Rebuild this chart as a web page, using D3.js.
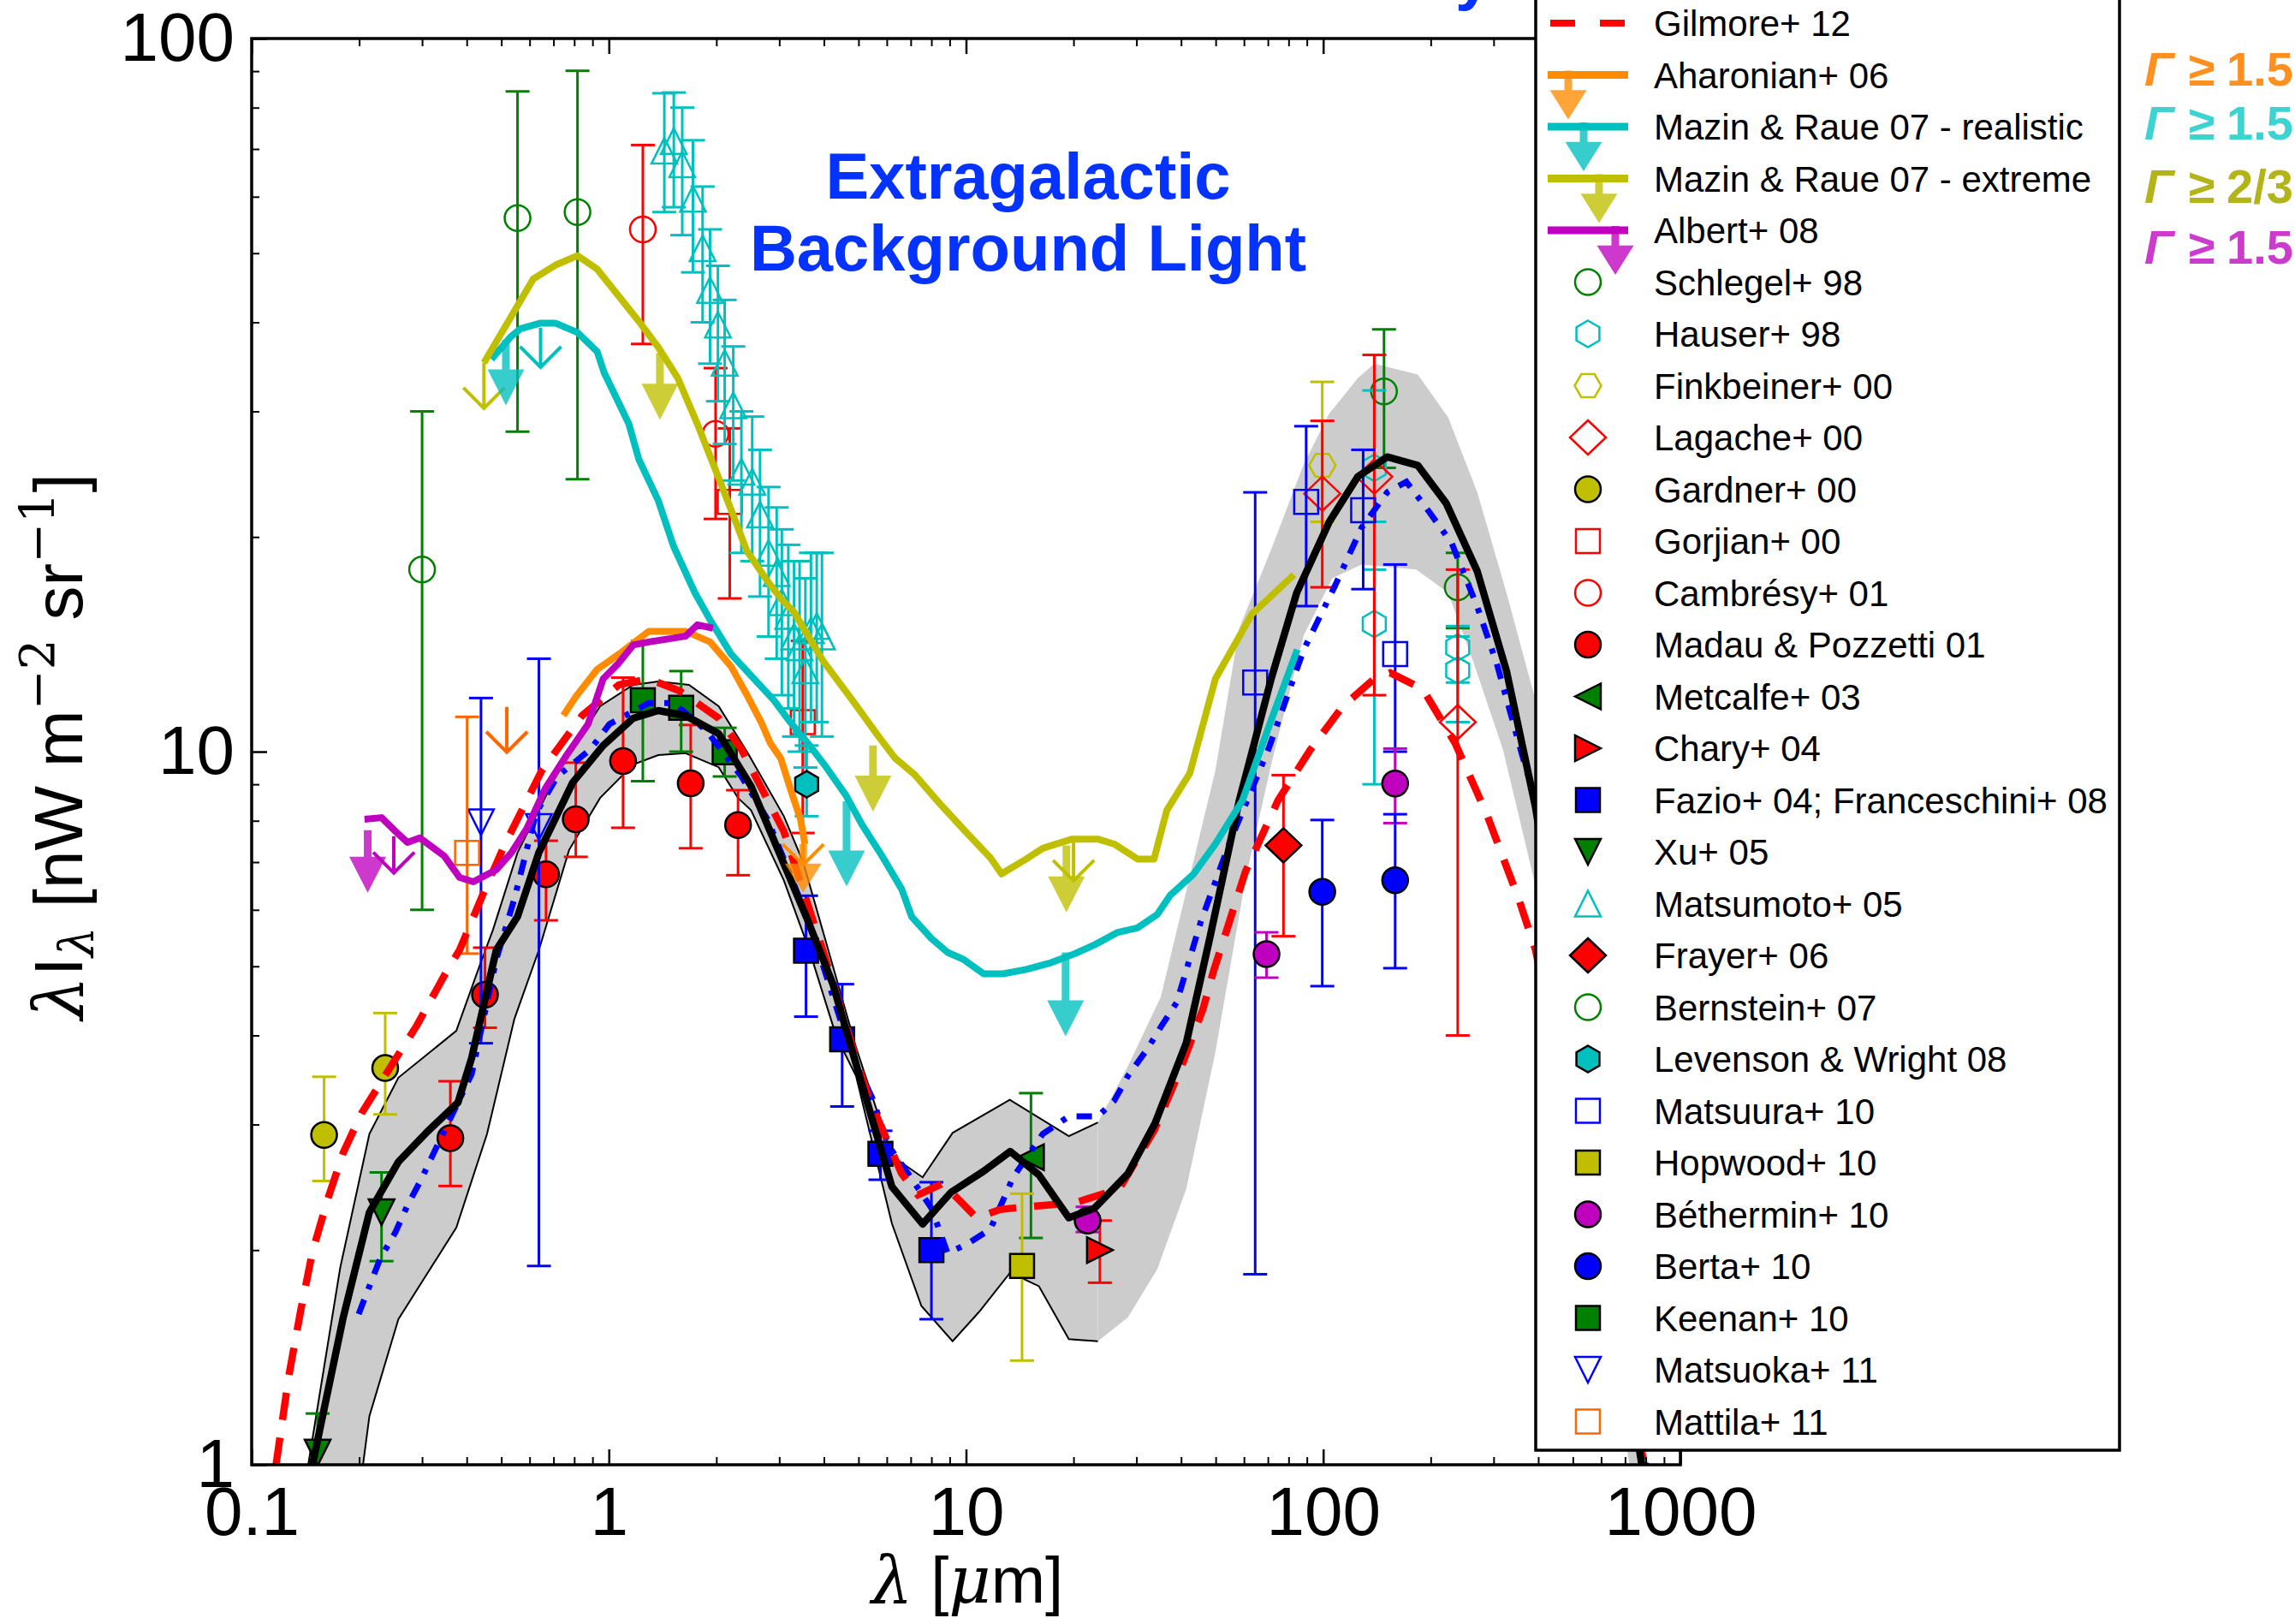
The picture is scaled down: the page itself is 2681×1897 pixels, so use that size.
<!DOCTYPE html>
<html><head><meta charset="utf-8">
<script src="https://cdn.jsdelivr.net/npm/d3@7"></script>
<style>
html,body{margin:0;padding:0;background:#fff;overflow:hidden}
svg{display:block}
text{font-family:"Liberation Sans",Arial,Helvetica,sans-serif}
</style></head><body>
<svg id="chart" width="2681" height="1897"></svg>
<script>
// ---------------- data: model curves (wavelength in micron, nW m^-2 sr^-1) ----------------
const modelLam = [0.135,0.148,0.1805,0.2136,0.2575,0.31,0.378,0.413,0.484,0.555,0.637,0.792,0.964,1.17,1.375,1.64,2.03,2.50,3.57,4.24,4.92,6.20,7.56,9.08,11.2,13.3,16.0,19.4,22.9,28.4,33.9,41.4,48.3,58.2,71.5,84.3,104,125,151,184,221,270,326,393,500,650,780,900];
const modelVal = [0.8,1.0,1.61,2.26,2.66,2.93,3.22,3.72,5.27,5.87,7.22,9.05,10.2,11.14,11.42,11.23,10.6,8.95,5.87,4.72,3.65,2.455,2.175,2.41,2.58,2.75,2.55,2.22,2.29,2.56,3.02,3.91,5.52,8.54,12.65,16.7,21.0,24.3,25.9,25.2,22.3,17.9,12.97,8.36,3.96,1.76,1.0,0.64];

// uncertainty band, near-IR part (outlined)
const bandNirUpLam = [0.144,0.177,0.2136,0.2575,0.374,0.434,0.474,0.555,0.717,0.945,1.17,1.375,1.676,2.03,2.45,3.09,3.50,4.24,4.92,6.2,7.56,9.17,13.26,19.4,23.4];
const bandNirUpVal = [1.0,1.89,2.91,3.49,4.06,5.0,5.63,7.22,9.32,11.58,12.41,12.54,12.41,11.58,9.95,8.12,7.0,5.0,3.85,2.71,2.53,2.92,3.25,2.89,3.02];
const bandNirLoLam = [0.195,0.205,0.2136,0.2575,0.374,0.456,0.544,0.637,0.774,0.945,1.17,1.375,1.64,2.03,2.30,2.50,3.09,3.65,3.90,4.33,4.92,6.20,7.50,9.17,10.9,13.3,16.0,19.4,23.4];
const bandNirLoVal = [0.85,1.0,1.17,1.60,2.15,2.91,4.22,5.27,7.28,8.61,9.59,9.89,9.95,9.51,8.61,8.28,6.60,5.25,4.72,3.99,3.51,2.18,1.67,1.49,1.64,1.86,1.78,1.50,1.49];
// uncertainty band, far-IR part
const bandFirUpLam = [23.4,28.4,35.1,49.9,58.2,71.5,88.2,104,125,139,184,224,270,326,393,500,650,810,900];
const bandFirUpVal = [3.02,3.62,4.53,9.41,14.9,19.2,25.3,29.8,33.4,35.0,33.8,29.4,23.1,16.7,11.8,5.9,2.6,1.0,0.7];
const bandFirLoLam = [23.4,28.4,34.3,41.4,49.9,60.6,71.5,88.2,106,128,182,224,264,319,393,500,620,720,800];
const bandFirLoVal = [1.49,1.61,1.88,2.44,3.79,6.63,9.59,14.55,17.5,18.3,18.0,16.7,13.3,10.05,6.48,3.1,1.6,1.0,0.7];

// second model (dash-dot)
const dashDotLam = [0.1993,0.229,0.2527,0.273,0.298,0.326,0.413,0.484,0.544,0.625,0.717,0.889,1.004,1.294,1.518,1.88,2.35,2.78,3.09,3.65,4.60,5.02,5.46,6.07,6.89,8.0,8.88,10.08,11.7,13.55,16.4,19.4,23.4,26.0,28.4,32.2,35.1,38.9,45.4,54.6,70.1,88.2,108,128,151,171,194,229,270,306,362,393,500,650,800];
const dashDotVal = [1.627,1.946,2.12,2.31,2.51,2.76,3.53,5.11,6.22,8.2,9.23,10.08,10.93,11.7,11.7,10.69,9.23,8.04,7.07,5.74,3.99,3.58,3.27,2.80,2.56,2.29,1.98,2.04,2.14,2.53,2.91,3.08,3.08,3.24,3.51,3.83,4.11,4.45,5.77,7.44,10.05,13.9,17.1,20.6,23.1,23.9,22.0,19.6,15.96,13.3,9.82,8.54,4.5,2.0,1.0];

// Gilmore+ 12
const gilmoreLam = [0.117,0.127,0.137,0.148,0.1634,0.1805,0.203,0.2377,0.290,0.353,0.382,0.446,0.512,0.649,0.841,1.067,1.294,1.578,2.03,2.35,3.09,3.98,4.71,5.34,6.6,7.34,8.6,9.66,10.7,12.45,14.75,20.2,26.9,33.6,39.8,46.1,49.3,60.6,74.7,91.9,113,139,154,190,234,287,354,393,500,650,793,900];
const gilmoreVal = [1.0,1.33,1.64,1.99,2.36,2.74,3.11,3.53,4.13,4.94,5.27,6.34,7.42,9.41,11.23,12.41,12.65,12.17,11.14,10.08,7.73,5.25,3.99,3.27,2.56,2.39,2.48,2.34,2.22,2.28,2.30,2.33,2.44,2.94,3.58,4.36,4.92,6.79,8.54,10.05,11.55,12.66,12.9,12.24,10.28,8.17,6.18,5.27,2.98,1.6,1.0,0.74];

// gamma-ray upper limits
const aharonianLam = [0.746,0.808,0.927,1.067,1.294,1.64,1.921,2.20,2.40,2.67,2.83,3.03,3.22,3.44,3.54];
const aharonianVal = [11.24,11.94,13.04,13.7,14.75,14.75,14.25,13.16,12.17,11.0,10.28,9.78,8.88,8.04,7.42];
const mazinRealLam = [0.469,0.532,0.567,0.644,0.708,0.817,0.927,0.97,1.138,1.213,1.375,1.518,1.742,1.921,2.20,2.55,2.90,3.22,3.65,4.06,4.60,5.13,5.82,6.61,7.04,8.0,8.88,9.86,11.2,12.7,14.75,17.1,20.2,22.9,26.6,30.2,34.3,37.3,43.3,49.9,59.4,70.1,84.6];
const mazinRealVal = [35.5,38.2,39.2,39.9,39.9,38.7,36.4,34.0,28.8,25.7,22.5,19.4,16.7,15.3,13.7,12.65,11.8,11.0,10.2,9.51,8.70,7.88,7.14,6.41,5.87,5.47,5.23,5.11,4.88,4.88,4.95,5.05,5.21,5.36,5.58,5.66,5.91,6.29,6.73,7.42,8.54,10.77,13.9];
const mazinExtLam = [0.447,0.532,0.614,0.708,0.817,0.927,1.21,1.375,1.56,1.77,2.01,2.21,2.43,2.78,3.04,3.29,3.98,4.81,5.70,6.33,7.19,8.33,9.86,11.7,12.57,14.75,16.4,19.8,23.4,26.0,30.2,33.6,36.5,42.3,49.9,63.2,82.8];
const mazinExtVal = [35.1,40.7,46.0,48.1,49.6,47.5,40.2,36.9,33.4,28.8,24.5,21.7,19.15,17.35,16.36,15.73,13.4,11.8,10.49,9.79,9.28,8.52,7.77,7.10,6.74,7.07,7.32,7.54,7.54,7.42,7.07,7.07,8.28,9.32,12.65,15.6,17.7];
const albertLam = [0.207,0.231,0.2527,0.273,0.2956,0.346,0.382,0.4175,0.484,0.534,0.589,0.664,0.762,0.875,0.964,1.064,1.17,1.294,1.64,1.77,1.957];
const albertVal = [8.04,8.08,7.73,7.46,7.57,7.14,6.66,6.57,6.83,7.22,7.80,8.88,9.89,10.93,12.65,13.3,14.11,14.25,14.52,15.06,14.9];

// limit arrows on the gamma-ray curves: [wavelength, start value, tip value]
const aharonianArrows = [[3.5,7.42,6.34]];
const aharonianOpen = [[3.5,7.42,6.94]];
const mazinRealArrows = [[0.515,37.8,30.6],[4.63,8.52,6.47],[19.0,5.23,3.99]];
const mazinRealOpen = [[0.644,39.3,34.6]];
const mazinExtArrows = [[1.39,36.2,29.2],[5.49,10.2,8.24],[19.1,7.39,5.95]];
const mazinExtOpen = [[0.447,35.1,30.3],[20.0,7.54,6.59]];
const albertArrows = [[0.2113,7.76,6.34]];
const albertOpen = [[0.25,7.61,6.76]];

// ---------------- data: measurements [wavelength, value, lower, upper] ----------------
const schlegelPts = [[148,32.0,25.0,39.1],[238,17.0,14.9,19.0]];
const hauserPts = [[139,25.0,21.0,32.1],[139,15.1,9.0,18.0],[238,14.0,12.5,15.0],[238,13.0,11.0,14.5]];
const finkbeinerPts = [[99.4,25.2,21.0,33.0]];
const lagachePts = [[99.4,23.0,17.0,29.1],[139,24.3,12.0,36.0],[238,11.0,4.0,18.0]];
const gardnerPts = [[0.1595,2.90,2.50,3.50],[0.2365,3.60,3.10,4.30]];
const gorjianPts = [[2.18,22.4,16.4,28.4],[3.49,11.0,7.69,14.3]];
const cambresyPts = [[1.245,54.0,37.3,70.9],[1.99,27.9,21.2,34.5]];
const madauPts = [[0.36,2.87,2.46,3.45],[0.45,4.56,4.10,5.31],[0.667,6.73,5.80,7.5],[0.808,8.04,7.12,9.65],[1.096,9.70,7.82,12.7],[1.695,9.03,7.32,10.9],[2.30,7.89,6.71,8.83]];
const metcalfePts = [[15.2,2.70,2.08,3.32]];
const charyPts = [[23.7,2.0,1.80,2.20]];
const fazioPts = [[3.565,5.26,4.25,6.28],[4.50,3.95,3.18,4.72],[5.76,2.73,2.51,2.94],[8.0,2.0,1.60,2.49]];
const xuPts = [[0.153,1.04,0.9,1.18],[0.231,2.26,1.93,2.57]];
const matsumotoPts = [[1.43,69.6,57.1,83.8],[1.52,71.8,58,84],[1.605,66.6,53,80],[1.72,59.6,47,72],[1.83,50.8,40,62],[1.92,44.4,35,54],[2.02,39.7,31,48],[2.11,35.1,27,43],[2.23,30.6,24,37],[2.35,24.7,19,30],[2.52,23.9,18.5,29.5],[2.65,21.5,16.5,26.5],[2.80,19.0,14.5,23.5],[2.95,17.8,13.5,22],[3.05,16.2,12,20.5],[3.18,15.5,11.5,19.5],[3.30,14.5,10.5,18.5],[3.42,14.0,10,18.5],[3.55,13.0,9.5,17.5],[3.68,14.8,11,19],[3.82,15.0,11,19],[3.95,14.5,10.5,19]];
const frayerPts = [[77.4,7.39,5.51,9.27]];
const bernsteinPts = [[0.300,18.0,6.0,30.0],[0.555,56.0,28.1,84.3],[0.817,57.1,24.1,90.1]];
const levensonPts = [[3.58,9.0,8.12,10.2]];
const matsuuraPts = [[64.5,12.5,1.85,23.1],[89.6,22.4,16.0,28.6],[129.4,21.8,16.9,26.5],[159,13.7,10.0,18.3]];
const hopwoodPts = [[14.35,1.90,1.40,2.40]];
const betherminPts = [[21.9,2.20,2.12,2.30],[69.4,5.20,4.82,5.58],[159,9.02,7.94,10.1]];
const bertaPts = [[99.4,6.36,4.69,8.02],[159,6.60,4.97,8.17]];
const keenanPts = [[1.245,11.8,9.09,14.3],[1.594,11.52,10.0,12.97],[2.11,9.98,9.23,10.8]];
const matsuokaPts = [[0.4385,7.96,3.90,11.89],[0.637,7.84,1.90,13.5]];
const mattilaPts = [[0.401,7.21,5.21,11.19]];
const mattilaLimits = [[0.518,11.55,9.98]];

// axis ticks
const xMajor = [0.1,1,10,100,1000];
const xTickLabels = ["0.1","1","10","100","1000"];
const yMajor = [1,10,100];
const yTickLabels = ["1","10","100"];

// ---------------- styles ----------------
const RED="#ff0000", GREEN="#008000", BLUE="#0000ff", CYAN="#00bfbf", OLIVE="#bfbf00",
      MAG="#bf00bf", ORANGE="#ff8c00", MATT="#ff6600";

const X0=294, X1=1963, Y0=1711, Y1=45;
const x = d3.scaleLog().domain([0.1,1000]).range([X0,X1]);
const y = d3.scaleLog().domain([1,100]).range([Y0,Y1]);
const zip = (a,b) => a.map((v,i)=>[v,b[i]]);
const lineGen = d3.line().x(d=>x(d[0])).y(d=>y(d[1]));

const svg = d3.select("#chart");
svg.append("rect").attr("width",2681).attr("height",1897).attr("fill","#fff");
svg.append("defs").append("clipPath").attr("id","plotclip")
  .append("rect").attr("x",X0).attr("y",Y1).attr("width",X1-X0).attr("height",Y0-Y1);
const plot = svg.append("g").attr("clip-path","url(#plotclip)");

// marker shapes
function markerPath(shape){
  const hexPts = (r,off)=>d3.range(6).map(k=>{const a=(off+60*k)*Math.PI/180;return [r*Math.cos(a),r*Math.sin(a)];});
  switch(shape){
    case "o": return d3.symbol(d3.symbolCircle, Math.PI*15*15)();
    case "s": return "M-14,-14H14V14H-14Z";
    case "^": return "M0,-15L15,15L-15,15Z";
    case "v": return "M0,15L15,-15L-15,-15Z";
    case "<": return "M-15,0L15,-15L15,15Z";
    case ">": return "M15,0L-15,-15L-15,15Z";
    case "D": return "M0,-20L21,0L0,20L-21,0Z";
    case "h": return "M"+hexPts(15.5,-90).map(p=>p.join(",")).join("L")+"Z";
    case "H": return "M"+hexPts(15.5,0).map(p=>p.join(",")).join("L")+"Z";
  }
}

// ---------------- band ----------------
function bandPath(upL,upV,loL,loV){
  const poly = zip(upL,upV).concat(zip(loL,loV).reverse());
  return lineGen(poly)+"Z";
}
plot.append("path").attr("d",bandPath(bandFirUpLam,bandFirUpVal,bandFirLoLam,bandFirLoVal)).attr("fill","#cccccc");
plot.append("path").attr("d",bandPath(bandNirUpLam,bandNirUpVal,bandNirLoLam,bandNirLoVal)).attr("fill","#cccccc");
[[bandNirUpLam,bandNirUpVal],[bandNirLoLam,bandNirLoVal]].forEach(([l,v])=>{
  plot.append("path").attr("d",lineGen(zip(l,v))).attr("fill","none").attr("stroke","#000").attr("stroke-width",2);
});

// ---------------- measurements ----------------
const datasets = [
  {label:"Schlegel+ 98", pts:schlegelPts, shape:"o", color:GREEN, filled:false},
  {label:"Hauser+ 98", pts:hauserPts, shape:"h", color:CYAN, filled:false},
  {label:"Finkbeiner+ 00", pts:finkbeinerPts, shape:"H", color:OLIVE, filled:false},
  {label:"Lagache+ 00", pts:lagachePts, shape:"D", color:RED, filled:false},
  {label:"Gardner+ 00", pts:gardnerPts, shape:"o", color:OLIVE, filled:true},
  {label:"Gorjian+ 00", pts:gorjianPts, shape:"s", color:RED, filled:false},
  {label:"Cambrésy+ 01", pts:cambresyPts, shape:"o", color:RED, filled:false},
  {label:"Madau & Pozzetti 01", pts:madauPts, shape:"o", color:RED, filled:true},
  {label:"Metcalfe+ 03", pts:metcalfePts, shape:"<", color:GREEN, filled:true},
  {label:"Chary+ 04", pts:charyPts, shape:">", color:RED, filled:true},
  {label:"Fazio+ 04; Franceschini+ 08", pts:fazioPts, shape:"s", color:BLUE, filled:true},
  {label:"Xu+ 05", pts:xuPts, shape:"v", color:GREEN, filled:true},
  {label:"Matsumoto+ 05", pts:matsumotoPts, shape:"^", color:CYAN, filled:false},
  {label:"Frayer+ 06", pts:frayerPts, shape:"D", color:RED, filled:true},
  {label:"Bernstein+ 07", pts:bernsteinPts, shape:"o", color:GREEN, filled:false},
  {label:"Levenson & Wright 08", pts:levensonPts, shape:"h", color:CYAN, filled:true},
  {label:"Matsuura+ 10", pts:matsuuraPts, shape:"s", color:BLUE, filled:false},
  {label:"Hopwood+ 10", pts:hopwoodPts, shape:"s", color:OLIVE, filled:true},
  {label:"Béthermin+ 10", pts:betherminPts, shape:"o", color:MAG, filled:true},
  {label:"Berta+ 10", pts:bertaPts, shape:"o", color:BLUE, filled:true},
  {label:"Keenan+ 10", pts:keenanPts, shape:"s", color:GREEN, filled:true},
  {label:"Matsuoka+ 11", pts:matsuokaPts, shape:"v", color:BLUE, filled:false},
  {label:"Mattila+ 11", pts:mattilaPts, shape:"s", color:MATT, filled:false}
];

function styleMarker(sel, ds){
  sel.attr("d",markerPath(ds.shape))
     .attr("fill", ds.filled ? ds.color : "none")
     .attr("stroke", ds.filled ? "#000" : ds.color)
     .attr("stroke-width", 2.5);
}

datasets.forEach(ds=>{
  const g = plot.append("g");
  ds.pts.forEach(p=>{
    const cx = x(p[0]);
    g.append("line").attr("x1",cx).attr("x2",cx).attr("y1",y(p[2])).attr("y2",y(p[3]))
      .attr("stroke",ds.color).attr("stroke-width",3);
    [p[2],p[3]].forEach(v=>{
      g.append("line").attr("x1",cx-14).attr("x2",cx+14).attr("y1",y(v)).attr("y2",y(v))
        .attr("stroke",ds.color).attr("stroke-width",3);
    });
  });
  g.selectAll("path.m").data(ds.pts).enter().append("path").attr("class","m")
    .attr("transform",p=>`translate(${x(p[0])},${y(p[1])})`)
    .call(s=>styleMarker(s,ds));
});

// open-arrow helper
function openArrow(g, cx, y0, y1, color, w){
  const a = 24;
  g.append("path").attr("d",`M${cx},${y0}L${cx},${y1}M${cx-a},${y1-a}L${cx},${y1}L${cx+a},${y1-a}`)
    .attr("fill","none").attr("stroke",color).attr("stroke-width",w||4).attr("stroke-linejoin","miter");
}
// Mattila upper limit
mattilaLimits.forEach(p=>openArrow(plot, x(p[0]), y(p[1]), y(p[2]), MATT, 4));

// ---------------- model curves ----------------
plot.append("path").attr("d",lineGen(zip(dashDotLam,dashDotVal))).attr("fill","none")
  .attr("stroke",BLUE).attr("stroke-width",7).attr("stroke-dasharray","18,13,6,13");
plot.append("path").attr("d",lineGen(zip(gilmoreLam,gilmoreVal))).attr("fill","none")
  .attr("stroke",RED).attr("stroke-width",8.5).attr("stroke-dasharray","32,21");
plot.append("path").attr("d",lineGen(zip(modelLam,modelVal))).attr("fill","none")
  .attr("stroke","#000").attr("stroke-width",8.5).attr("stroke-linejoin","round");

const limitCurves = [
  {lam:aharonianLam, val:aharonianVal, color:ORANGE, arrows:aharonianArrows, open:aharonianOpen},
  {lam:mazinRealLam, val:mazinRealVal, color:CYAN, arrows:mazinRealArrows, open:mazinRealOpen},
  {lam:mazinExtLam, val:mazinExtVal, color:OLIVE, arrows:mazinExtArrows, open:mazinExtOpen},
  {lam:albertLam, val:albertVal, color:MAG, arrows:albertArrows, open:albertOpen}
];
limitCurves.forEach(c=>{
  plot.append("path").attr("d",lineGen(zip(c.lam,c.val))).attr("fill","none")
    .attr("stroke",c.color).attr("stroke-width",8).attr("stroke-linejoin","round");
  c.open.forEach(a=>openArrow(plot, x(a[0]), y(a[1]), y(a[2]), c.color, 4));
});

// filled arrow helper
function filledArrow(g, cx, y0, y1, color){
  const hl = Math.min(42, (y1-y0)*0.6), hw = 21.5, sw = 4.5;
  const d = `M${cx-sw},${y0}L${cx+sw},${y0}L${cx+sw},${y1-hl}L${cx+hw},${y1-hl}L${cx},${y1}L${cx-hw},${y1-hl}L${cx-sw},${y1-hl}Z`;
  g.append("path").attr("d",d).attr("fill",color).attr("fill-opacity",0.78);
}
limitCurves.forEach(c=>{
  c.arrows.forEach(a=>filledArrow(plot, x(a[0]), y(a[1]), y(a[2]), c.color));
});

// ---------------- axes ----------------
const xMinor = [], yMinor = [];
[0.1,1,10,100].forEach(d=>d3.range(2,10).forEach(k=>xMinor.push(d*k)));
[1,10].forEach(d=>d3.range(2,10).forEach(k=>yMinor.push(d*k)));

function axisStyle(g){
  g.select(".domain").remove();
  g.selectAll(".tick line").attr("stroke","#000");
  g.selectAll("text").attr("font-family","'Liberation Sans',Arial,sans-serif").attr("font-size",80).attr("fill","#000");
}
const axes = svg.append("g");
axes.append("g").attr("transform",`translate(0,${Y0})`)
  .call(d3.axisBottom(x).tickValues(xMajor).tickFormat((d,i)=>xTickLabels[i]).tickSizeInner(-18).tickSizeOuter(0).tickPadding(25))
  .call(axisStyle).selectAll(".tick line").attr("stroke-width",2.5);
axes.append("g").attr("transform",`translate(0,${Y0})`)
  .call(d3.axisBottom(x).tickValues(xMinor).tickFormat("").tickSizeInner(-9).tickSizeOuter(0))
  .call(axisStyle).selectAll(".tick line").attr("stroke-width",2);
axes.append("g").attr("transform",`translate(0,${Y1})`)
  .call(d3.axisTop(x).tickValues(xMajor).tickFormat("").tickSizeInner(-18).tickSizeOuter(0))
  .call(axisStyle).selectAll(".tick line").attr("stroke-width",2.5);
axes.append("g").attr("transform",`translate(0,${Y1})`)
  .call(d3.axisTop(x).tickValues(xMinor).tickFormat("").tickSizeInner(-9).tickSizeOuter(0))
  .call(axisStyle).selectAll(".tick line").attr("stroke-width",2);
axes.append("g").attr("transform",`translate(${X0},0)`)
  .call(d3.axisLeft(y).tickValues(yMajor).tickFormat((d,i)=>yTickLabels[i]).tickSizeInner(-18).tickSizeOuter(0).tickPadding(20))
  .call(axisStyle).selectAll(".tick line").attr("stroke-width",2.5);
axes.append("g").attr("transform",`translate(${X0},0)`)
  .call(d3.axisLeft(y).tickValues(yMinor).tickFormat("").tickSizeInner(-9).tickSizeOuter(0))
  .call(axisStyle).selectAll(".tick line").attr("stroke-width",2);
axes.append("g").attr("transform",`translate(${X1},0)`)
  .call(d3.axisRight(y).tickValues(yMajor).tickFormat("").tickSizeInner(-18).tickSizeOuter(0))
  .call(axisStyle);
axes.append("g").attr("transform",`translate(${X1},0)`)
  .call(d3.axisRight(y).tickValues(yMinor).tickFormat("").tickSizeInner(-9).tickSizeOuter(0))
  .call(axisStyle);
axes.append("rect").attr("x",X0).attr("y",Y1).attr("width",X1-X0).attr("height",Y0-Y1)
  .attr("fill","none").attr("stroke","#000").attr("stroke-width",3.5);

// axis titles
const xt = svg.append("text").attr("x",1130).attr("y",1872).attr("text-anchor","middle").attr("font-size",76);
xt.append("tspan").attr("font-family","'DejaVu Serif',serif").attr("font-style","italic").text("λ");
xt.append("tspan").text(" [");
xt.append("tspan").attr("font-family","'DejaVu Serif',serif").attr("font-style","italic").text("μ");
xt.append("tspan").text("m]");

const yt = svg.append("text").attr("transform","translate(96,872) rotate(-90)").attr("text-anchor","middle").attr("font-size",80);
yt.append("tspan").attr("font-family","'DejaVu Serif',serif").attr("font-style","italic").text("λ");
yt.append("tspan").text("I");
yt.append("tspan").attr("font-family","'DejaVu Serif',serif").attr("font-style","italic").attr("font-size",56).attr("dy",13).text("λ");
yt.append("tspan").attr("dy",-13).text(" [nW m");
yt.append("tspan").attr("font-family","'DejaVu Serif',serif").attr("font-size",56).attr("dy",-33).text("−2");
yt.append("tspan").attr("dy",33).text(" sr");
yt.append("tspan").attr("font-family","'DejaVu Serif',serif").attr("font-size",56).attr("dy",-33).text("−1");
yt.append("tspan").attr("dy",33).text("]");

// chart heading
const head = svg.append("g").attr("font-weight","bold").attr("font-size",76).attr("fill","#0433ff").attr("text-anchor","middle");
head.append("text").attr("x",1201).attr("y",232).text("Extragalactic");
head.append("text").attr("x",1201).attr("y",316).text("Background Light");
svg.append("text").attr("x",1700).attr("y",-3).attr("font-weight","bold").attr("font-size",76).attr("fill","#0433ff").text("y");

// ---------------- legend ----------------
const LX=1794, LW=682, LY=-60, LH=1754;
const leg = svg.append("g");
leg.append("rect").attr("x",LX).attr("y",LY).attr("width",LW).attr("height",LH)
  .attr("fill","#fff").attr("stroke","#000").attr("stroke-width",3.5);
const rowY = i => 27 + i*60.5;
const legendCurves = [
  {label:"Gilmore+ 12", color:RED, dash:"29,29", arrowX:null},
  {label:"Aharonian+ 06", color:ORANGE, dash:null, arrowX:1832},
  {label:"Mazin & Raue 07 - realistic", color:CYAN, dash:null, arrowX:1850},
  {label:"Mazin & Raue 07 - extreme", color:OLIVE, dash:null, arrowX:1868},
  {label:"Albert+ 08", color:MAG, dash:null, arrowX:1887}
];
legendCurves.forEach((c,i)=>{
  const yy = rowY(i);
  leg.append("line").attr("x1",c.dash?1811:1808).attr("x2",c.dash?1898:1902).attr("y1",yy).attr("y2",yy)
    .attr("stroke",c.color).attr("stroke-width",c.dash?8:9).attr("stroke-dasharray",c.dash);
  leg.append("text").attr("x",1932).attr("y",yy+15).attr("font-size",42).text(c.label);
});
legendCurves.forEach((c,i)=>{
  if(c.arrowX) filledArrow(leg, c.arrowX, rowY(i)-5, rowY(i)+52, c.color);
});
datasets.forEach((ds,j)=>{
  const yy = rowY(j+legendCurves.length);
  leg.append("path").attr("transform",`translate(1855,${yy})`).call(s=>styleMarker(s,ds));
  leg.append("text").attr("x",1932).attr("y",yy+15).attr("font-size",42).text(ds.label);
});

// photon index labels
const gammaLabels = [
  {val:"1.5", color:"#ff8f1f", y:100},
  {val:"1.5", color:"#3dd3d3", y:163},
  {val:"2/3", color:"#b3b31a", y:237},
  {val:"1.5", color:"#cc3ccc", y:308}
];
gammaLabels.forEach(gl=>{
  const t = svg.append("text").attr("y",gl.y).attr("font-family","'DejaVu Sans',sans-serif")
    .attr("font-weight","bold").attr("font-size",56).attr("fill",gl.color);
  t.append("tspan").attr("x",2505).attr("font-style","italic").text("Γ");
  t.append("tspan").attr("x",2557).text("≥");
  t.append("tspan").attr("x",2601).text(gl.val);
});
</script></body></html>
